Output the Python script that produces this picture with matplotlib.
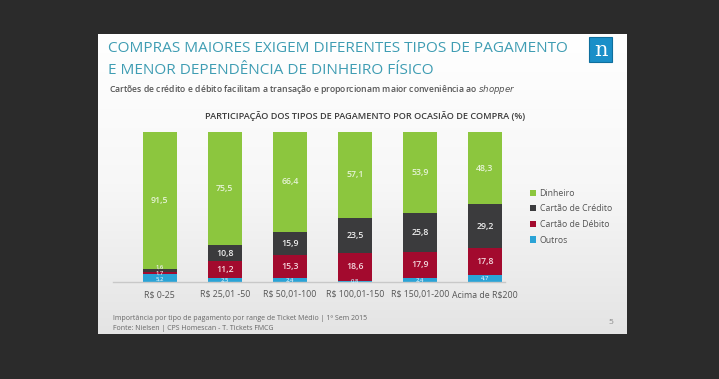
import matplotlib
matplotlib.use("Agg")
import matplotlib.pyplot as plt
import numpy as np
from matplotlib.patches import Rectangle
from matplotlib.colors import LinearSegmentedColormap

categories = ["R$ 0-25", "R$ 25,01 -50", "R$ 50,01-100", "R$ 100,01-150", "R$ 150,01-200", "Acima de R$200"]
outros = [5.2, 2.5, 2.4, 0.8, 2.4, 4.7]
debito = [1.7, 11.2, 15.3, 18.6, 17.9, 17.8]
credito = [1.6, 10.8, 15.9, 23.5, 25.8, 29.2]
dinheiro = [91.5, 75.5, 66.4, 57.1, 53.9, 48.3]
series_names = ["Outros", "Cartão de Débito", "Cartão de Crédito", "Dinheiro"]
colors = ["#2aa3d6", "#a30a2e", "#3b3b3d", "#8cc63e"]
label_colors = ["#cfe9f5", "#f3d6dc", "#eeeeee", "#e6f3d6"]

plt.rcParams['font.family'] = ['Open Sans', 'DejaVu Sans']

W, H = 719, 379
fig = plt.figure(figsize=(W/100, H/100), dpi=100)
fig.patch.set_facecolor("#2b2b2b")

# slide background with gradient
bg = fig.add_axes([98/W, 1-334/H, (627-98)/W, (334-34)/H])
grad = np.linspace(0, 1, 256).reshape(-1, 1)
cmap = LinearSegmentedColormap.from_list("g", ["#ffffff", "#f7f7f7", "#e4e4e4"])
bg.imshow(grad, aspect="auto", cmap=cmap, extent=[0, 1, 0, 1])
bg.set_xlim(0, 1); bg.set_ylim(0, 1)
bg.axis("off")

# logo
fig.patches.append(Rectangle((589/W, 1-62/H), 23/W, 25/H, transform=fig.transFigure,
                             facecolor="#1a8fc8", edgecolor="#0f6f9e", lw=0.8))
fig.text(600.5/W, 1-50/H, "n", color="white", fontsize=15, ha="center", va="center",
         family="DejaVu Serif")

title_color = "#3f9db3"
fig.text(108/W, 1-49/H, "COMPRAS MAIORES EXIGEM DIFERENTES TIPOS DE PAGAMENTO",
         color=title_color, fontsize=11.1, ha="left", va="center")
fig.text(108/W, 1-71/H, "E MENOR DEPENDÊNCIA DE DINHEIRO FÍSICO",
         color=title_color, fontsize=11.1, ha="left", va="center")
fig.text(109/W, 1-89/H,
         r"Cartões de crédito e débito facilitam a transação e proporcionam maior conveniência ao $\it{shopper}$",
         color="#555555", fontsize=6.2, ha="left", va="center", fontweight="semibold")
fig.text(365/W, 1-116/H, "PARTICIPAÇÃO DOS TIPOS DE PAGAMENTO POR OCASIÃO DE COMPRA (%)",
         color="#3c3c3c", fontsize=6.6, ha="center", va="center", fontweight="semibold")

ax = fig.add_axes([113/W, 1-282/H, (505-113)/W, (282-132)/H])
ax.set_facecolor("none")
x = np.arange(len(categories))
bottom = np.zeros(len(categories))
data = [outros, debito, credito, dinheiro]
for si, (vals, c, lc, name) in enumerate(zip(data, colors, label_colors, series_names)):
    vals = np.array(vals)
    ax.bar(x, vals, 0.52, bottom=bottom, color=c, label=name, zorder=2)
    for xi, b, v in zip(x, bottom, vals):
        small = v < 6
        fs = 6.3 if not small else 4.2
        ypos = b + v/2
        if small and xi == 0:
            ypos = {0: 2.0, 1: 6.0, 2: 10.0}[si]
        ax.text(xi, ypos, f"{v:.1f}".replace(".", ","), color=lc, fontsize=fs,
                ha="center", va="center", fontweight="semibold", zorder=3)
    bottom += vals

ax.set_xlim(-0.72, 5.31)
ax.set_ylim(0, 100)
for s in ["top", "right", "left"]:
    ax.spines[s].set_visible(False)
ax.spines["bottom"].set_color("#c8c8c8")
ax.spines["bottom"].set_linewidth(1.0)
ax.set_yticks([])
ax.set_xticks(x)
ax.set_xticklabels(categories, fontsize=6.3, color="#555555")
ax.tick_params(axis="x", length=0, pad=6)

handles, labels = ax.get_legend_handles_labels()
leg = fig.legend(handles[::-1], labels[::-1], loc="upper left",
                 bbox_to_anchor=(522/W, 1-181/H), frameon=False, fontsize=6.3,
                 handlelength=0.7, handleheight=0.7, handletextpad=0.4, labelspacing=0.75,
                 labelcolor="#555555")

fig.text(113/W, 1-318/H, "Importância por tipo de pagamento por range de Ticket Médio | 1º Sem 2015",
         color="#666666", fontsize=5.0, ha="left", va="center")
fig.text(113/W, 1-328/H, "Fonte: Nielsen | CPS Homescan - T. Tickets FMCG",
         color="#666666", fontsize=5.0, ha="left", va="center")
fig.text(611/W, 1-323/H, "5", color="#888888", fontsize=6, ha="center", va="center")

fig.savefig("out.png", dpi=100, facecolor=fig.get_facecolor())
